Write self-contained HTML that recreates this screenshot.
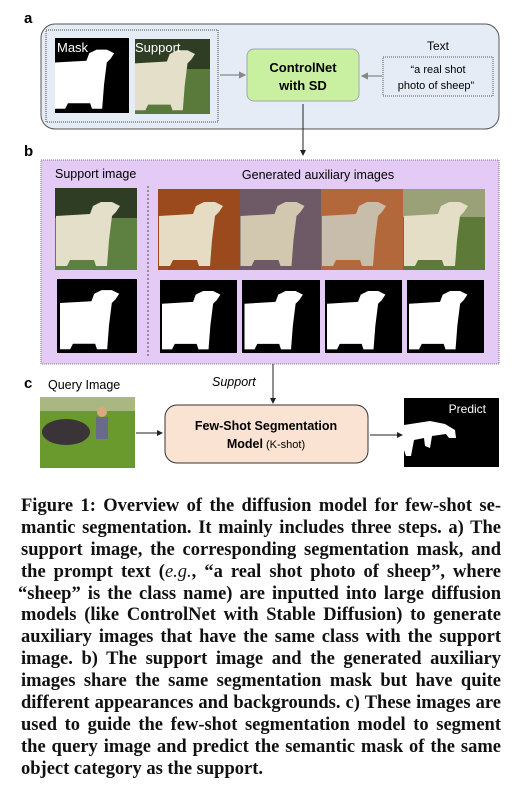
<!DOCTYPE html>
<html><head><meta charset="utf-8">
<style>
html,body{margin:0;padding:0;background:#fff;width:520px;height:790px;overflow:hidden;position:relative}
svg{position:absolute;left:0;top:0}
.cap{position:absolute;left:21px;width:480px;font-family:"Liberation Serif",serif;font-weight:bold;font-size:18.5px;color:#111;line-height:21.9px}
.ln{text-align:justify;text-align-last:justify;white-space:nowrap;height:21.9px}
.ln.last{text-align-last:left}
</style></head><body>
<svg width="520" height="480" viewBox="0 0 520 480" font-family="Liberation Sans, sans-serif">
<defs>
<symbol id="sh" viewBox="0 0 80 80"><path d="M0,26 L34,24 L37,16 L45,12 L56,12 L64,16 L60,22 L56,26 L53,50 L51,76 L40,76 L38,70 L14,70 L11,76 L0,76 Z"/></symbol>
<marker id="ah" markerWidth="6" markerHeight="6" refX="5" refY="3" orient="auto"><path d="M0,0 L6,3 L0,6 Z" fill="#222"/></marker>
<marker id="ahg" markerWidth="6" markerHeight="6" refX="5" refY="3" orient="auto"><path d="M0,0 L6,3 L0,6 Z" fill="#888"/></marker>
</defs>
<text x="24" y="23" font-size="15" font-weight="bold">a</text>
<rect x="41" y="24" width="458" height="105" rx="14" fill="#e6ecf6" stroke="#555" stroke-width="1"/>
<rect x="46" y="30" width="172" height="92" fill="none" stroke="#444" stroke-dasharray="1,1"/>
<g><rect x="55" y="38" width="74" height="75" fill="#000"/><use href="#sh" x="55" y="38" width="74" height="75" fill="#fff"/></g>
<text x="57" y="52" font-size="13" fill="#fff">Mask</text>
<g><rect x="135" y="39" width="75" height="75" fill="#5a7a3c"/><rect x="135" y="39" width="75" height="30" fill="#2f3d25"/><use href="#sh" x="135" y="39" width="75" height="75" fill="#e4dfc8"/></g>
<text x="135" y="52" font-size="13" fill="#fff">Support</text>
<line x1="220" y1="75" x2="245" y2="75" stroke="#888" stroke-width="1.2" marker-end="url(#ahg)"/>
<rect x="247" y="49" width="112" height="52" rx="7" fill="#c8f0a0" stroke="#9aa"/>
<text x="303" y="72" font-size="13" font-weight="bold" text-anchor="middle">ControlNet</text>
<text x="303" y="90" font-size="13" font-weight="bold" text-anchor="middle">with SD</text>
<text x="438" y="50" font-size="12" text-anchor="middle">Text</text>
<rect x="383" y="57" width="110" height="39" fill="none" stroke="#555" stroke-dasharray="1,1"/>
<text x="438" y="73" font-size="11" text-anchor="middle">“a real shot</text>
<text x="436" y="89" font-size="11" text-anchor="middle">photo of sheep”</text>
<line x1="382" y1="76" x2="362" y2="76" stroke="#888" stroke-width="1.2" marker-end="url(#ahg)"/>
<line x1="303" y1="104" x2="303" y2="155" stroke="#222" stroke-width="1" marker-end="url(#ah)"/>
<text x="24" y="156" font-size="15" font-weight="bold">b</text>
<rect x="41" y="160" width="458" height="204" fill="#e3cbf5" stroke="#777" stroke-dasharray="1,1"/>
<text x="55" y="178" font-size="12.5">Support image</text>
<text x="318" y="179" font-size="12.5" text-anchor="middle">Generated auxiliary images</text>
<line x1="148" y1="186" x2="148" y2="358" stroke="#444" stroke-dasharray="2,2"/>
<g><rect x="55" y="188" width="82" height="82" fill="#5e8040"/><rect x="55" y="188" width="82" height="30" fill="#2f3d25"/><use href="#sh" x="55" y="190" width="82" height="80" fill="#e4dfc8"/></g>
<g><rect x="158" y="189" width="82" height="81" fill="#9a4a1c"/><use href="#sh" x="158" y="190" width="82" height="80" fill="#e6dcc4"/></g>
<g><rect x="240" y="189" width="81" height="81" fill="#6e5a66"/><use href="#sh" x="240" y="190" width="81" height="80" fill="#d2c8b0"/></g>
<g><rect x="321" y="189" width="82" height="81" fill="#b2683a"/><use href="#sh" x="321" y="190" width="82" height="80" fill="#c8bcaa"/></g>
<g><rect x="403" y="189" width="82" height="81" fill="#5d7a38"/><rect x="403" y="189" width="82" height="28" fill="#9aa078"/><use href="#sh" x="403" y="190" width="82" height="80" fill="#e4dec6"/></g>
<g>
<rect x="57" y="279" width="80" height="74" fill="#000"/><use href="#sh" x="57" y="279" width="80" height="74" fill="#fff"/>
<rect x="160" y="280" width="77" height="73" fill="#000"/><use href="#sh" x="160" y="280" width="77" height="73" fill="#fff"/>
<rect x="242" y="280" width="78" height="73" fill="#000"/><use href="#sh" x="242" y="280" width="78" height="73" fill="#fff"/>
<rect x="325" y="280" width="77" height="73" fill="#000"/><use href="#sh" x="325" y="280" width="77" height="73" fill="#fff"/>
<rect x="407" y="280" width="77" height="73" fill="#000"/><use href="#sh" x="407" y="280" width="77" height="73" fill="#fff"/>
</g>
<line x1="273" y1="364" x2="273" y2="403" stroke="#222" stroke-width="1" marker-end="url(#ah)"/>
<text x="212" y="386" font-size="12.5" font-style="italic">Support</text>
<text x="24" y="388" font-size="15" font-weight="bold">c</text>
<text x="48" y="389" font-size="12.5">Query Image</text>
<g><rect x="40" y="397" width="95" height="71" fill="#6a9a2e"/><rect x="40" y="397" width="95" height="14" fill="#a8b880"/><ellipse cx="66" cy="432" rx="24" ry="13" fill="#3a3438"/><rect x="96" y="417" width="12" height="22" fill="#6a6a8a"/><circle cx="102" cy="412" r="5" fill="#d8a880"/></g>
<line x1="136" y1="433" x2="162" y2="433" stroke="#222" stroke-width="1" marker-end="url(#ah)"/>
<rect x="165" y="405" width="203" height="58" rx="12" fill="#fbe3d3" stroke="#333" stroke-width="1"/>
<text x="266" y="430" font-size="12.5" font-weight="bold" text-anchor="middle">Few-Shot Segmentation</text>
<text x="266" y="448" font-size="12.5" text-anchor="middle"><tspan font-weight="bold">Model</tspan><tspan font-size="11"> (K-shot)</tspan></text>
<line x1="370" y1="435" x2="402" y2="435" stroke="#222" stroke-width="1" marker-end="url(#ah)"/>
<g><rect x="404" y="398" width="95" height="69" fill="#000"/><path d="M404,425 L430,421 L445,424 L455,430 L456,438 L449,438 L446,434 L432,436 L430,448 L425,446 L424,438 L414,440 L411,456 L406,456 L404,450 Z" fill="#fff"/></g>
<text x="486" y="413" font-size="12" fill="#fff" text-anchor="end">Predict</text>
</svg>
<div class="cap" style="top:496px">
<div class="ln">Figure 1: Overview of the diffusion model for few-shot se-</div>
<div class="ln">mantic segmentation. It mainly includes three steps. a) The</div>
<div class="ln">support image, the corresponding segmentation mask, and</div>
<div class="ln">the prompt text (<i style="font-weight:normal">e.g.</i>, “a real shot photo of sheep”, where</div>
<div class="ln" style="margin-left:-3px">“sheep” is the class name) are inputted into large diffusion</div>
<div class="ln">models (like ControlNet with Stable Diffusion) to generate</div>
<div class="ln">auxiliary images that have the same class with the support</div>
<div class="ln">image. b) The support image and the generated auxiliary</div>
<div class="ln">images share the same segmentation mask but have quite</div>
<div class="ln">different appearances and backgrounds. c) These images are</div>
<div class="ln">used to guide the few-shot segmentation model to segment</div>
<div class="ln">the query image and predict the semantic mask of the same</div>
<div class="ln last">object category as the support.</div>
</div>
</body></html>
